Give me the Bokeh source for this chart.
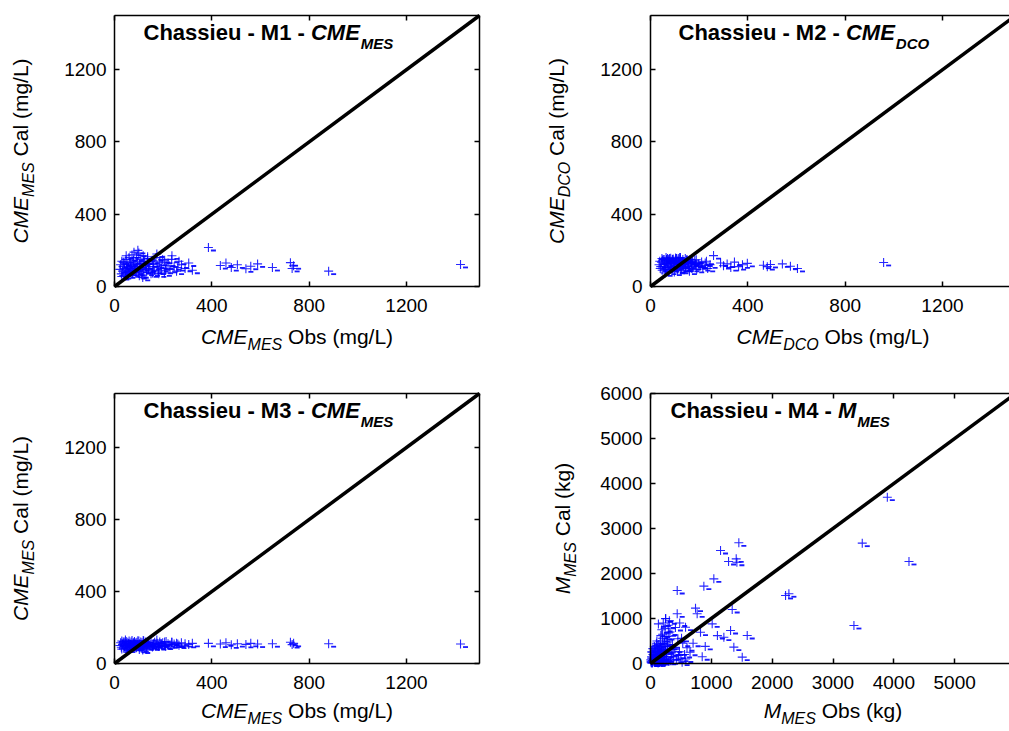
import math
from bokeh.plotting import figure
from bokeh.models import Label, LinearAxis, FixedTicker, Range1d, ColumnDataSource
from bokeh.transform import dodge
from bokeh.layouts import column, row
from bokeh.embed import file_html
from bokeh.resources import INLINE

FONT = "Liberation Sans"
BLUE = "#0000ff"

# ---------------- data ----------------
# Panel 1 : Chassieu - M1 - CME_MES (mg/L)
p1_obs = [22, 25, 28, 30, 33, 35, 38, 40, 42, 45,
          47, 50, 52, 55, 58, 60, 62, 65, 68, 70,
          72, 75, 78, 80, 82, 85, 88, 90, 92, 95,
          98, 100, 103, 105, 108, 110, 113, 115, 118, 120,
          124, 128, 132, 136, 140, 145, 150, 155, 160, 165,
          170, 175, 180, 186, 192, 198, 205, 212, 220, 228,
          236, 245, 255, 265, 275, 290, 305, 320,
          30, 48, 66, 84, 102, 120, 138, 156, 174, 192, 210, 235, 260,
          36, 56, 76, 96, 116, 136, 158, 182, 206,
          386, 435, 458, 480, 505, 540, 560, 588, 649, 723, 730, 736, 880, 1422]
p1_cal = [95, 120, 70, 140, 85, 110, 60, 130, 100, 75,
          150, 90, 125, 65, 105, 160, 80, 135, 115, 95,
          175, 70, 145, 190, 100, 125, 85, 160, 110, 140,
          75, 185, 120, 95, 150, 65, 130, 105, 170, 90,
          140, 115, 80, 155, 100, 125, 70, 145, 110, 90,
          160, 120, 85, 135, 100, 150, 75, 115, 130, 95,
          170, 110, 85, 140, 120, 100, 130, 90,
          55, 170, 100, 120, 60, 140, 95, 75, 180, 115, 90, 150, 105,
          135, 80, 110, 200, 50, 165, 125, 70, 145,
          216, 116, 130, 105, 120, 98, 112, 125, 105, 132, 100, 115, 85, 122]

# Panel 2 : Chassieu - M2 - CME_DCO (mg/L)
p2_obs = [35, 40, 45, 48, 52, 55, 58, 62, 65, 68,
          72, 75, 78, 82, 85, 88, 92, 95, 98, 102,
          105, 108, 112, 115, 118, 122, 125, 130, 135, 140,
          145, 150, 155, 160, 168, 175, 182, 190, 198, 206,
          215, 225, 235, 245,
          50, 60, 70, 80, 90, 100, 110, 120, 132, 144,
          156, 170, 185, 200,
          42, 66, 86, 106, 126, 148, 166,
          76, 96, 116, 138,
          38, 47, 56, 64, 73, 83, 93, 103, 113, 123,
          133, 143, 153, 163, 173, 188, 210, 230,
          259, 288, 300, 315, 330, 345, 362, 378, 398, 464, 480, 493, 542, 575, 604, 958]
p2_cal = [120, 100, 135, 90, 150, 110, 125, 95, 145, 105,
          130, 85, 155, 115, 140, 100, 150, 120, 80, 145,
          110, 155, 95, 135, 125, 150, 90, 140, 115, 130,
          100, 150, 120, 85, 135, 110, 145, 95, 125, 115,
          105, 130, 100, 120,
          145, 75, 155, 105, 150, 130, 90, 160, 120, 110,
          140, 100, 125, 115,
          110, 150, 125, 155, 100, 145, 130,
          150, 140, 155, 105,
          140, 155, 150, 160, 148, 157, 152, 158, 145, 160,
          150, 155, 142, 150, 140, 148, 135, 140,
          171, 130, 115, 125, 105, 135, 110, 120, 128, 118, 110, 122, 125, 112, 100, 133]

# Panel 3 : Chassieu - M3 - CME_MES (mg/L), same observations as M1
p3_obs = list(p1_obs)
p3_cal = [100, 115, 90, 125, 105, 110, 85, 120, 95, 130,
          110, 100, 118, 80, 112, 125, 95, 108, 120, 102,
          128, 90, 115, 105, 122, 98, 112, 88, 118, 106,
          95, 125, 110, 100, 120, 85, 115, 105, 128, 98,
          112, 120, 92, 108, 116, 102, 125, 95, 110, 118,
          105, 112, 98, 120, 108, 115, 100, 122, 110, 104,
          118, 108, 112, 102, 115, 110, 106, 112,
          80, 122, 105, 115, 78, 125, 100, 92, 130, 110, 96, 118, 108,
          120, 88, 112, 126, 75, 116, 104, 94, 120,
          112, 108, 115, 104, 110, 106, 112, 108, 110, 118, 105, 112, 110, 108]

# Panel 4 : Chassieu - M4 - M_MES (kg)
p4_obs = [10, 20, 30, 40, 50, 60, 70, 80, 90, 100,
          110, 120, 130, 140, 150, 160, 175, 190, 205, 220,
          235, 250, 265, 280, 300, 320, 340, 360, 380, 400,
          425, 450, 475, 500, 530, 560, 600,
          15, 35, 55, 75, 95, 115, 135, 155, 180, 200,
          230, 260, 290, 320, 350,
          25, 65, 105, 145, 185, 225, 270, 310,
          210, 240, 170, 130, 190, 250, 300,
          5, 12, 18, 22, 28, 33, 38, 45, 52, 58,
          63, 68, 72, 78, 85, 92, 98, 105, 112, 118,
          125, 138, 148, 158, 168, 178, 195, 215, 245, 275,
          330, 370, 410, 460, 510, 580,
          439, 439, 247, 576, 740, 767, 822, 877, 1014, 1041,
          1151, 1206, 1283, 1316, 1343, 1370, 1409, 1420, 1452, 1508,
          1590, 700, 650, 900, 480, 1100, 520, 850,
          2220, 2275, 3344, 3481, 3893, 4249]
p4_cal = [40, 120, 20, 200, 90, 300, 60, 150, 250, 80,
          400, 180, 30, 350, 120, 500, 220, 70, 450, 160,
          600, 280, 100, 380, 50, 700, 240, 420, 150, 320,
          90, 550, 260, 120, 450, 200, 350,
          10, 60, 180, 350, 100, 250, 420, 150, 300, 650,
          450, 200, 850, 380, 150,
          250, 80, 500, 220, 750, 120, 600, 950,
          900, 780, 620, 880, 40, 1000, 680,
          80, 30, 150, 260, 60, 10, 330, 120, 210, 40,
          380, 170, 90, 20, 280, 130, 450, 60, 200, 320,
          10, 100, 270, 50, 380, 140, 560, 90, 310, 480,
          60, 260, 800, 180, 560, 100,
          1622, 1104, 993, 807, 1230, 1104, 696, 1719, 881, 1881,
          2511, 585, 2267, 733, 1200, 363, 2326, 2250, 2682, 141,
          622, 450, 250, 380, 900, 620, 30, 150,
          1511, 1550, 844, 2674, 3696, 2267]

conc_max = 1500
mass_max = 6000
conc_ticks = [0, 400, 800, 1200]
mass_ticks = [0, 1000, 2000, 3000, 4000, 5000, 6000]
conc_diag = [0, 1500]
mass_diag = [0, 6000]

# ---------------- text metrics (Arial / Liberation Sans) ----------------
W_REG = {' ': 278, '(': 333, ')': 333, '/': 278, '-': 333, 'A': 667, 'C': 722, 'D': 722,
         'E': 667, 'L': 556, 'M': 833, 'O': 778, 'S': 667, 'a': 556, 'b': 556, 'c': 500,
         'e': 556, 'g': 556, 'h': 556, 'i': 222, 'k': 500, 'l': 222, 'm': 833, 'o': 556,
         's': 500, 'u': 556}
W_BOLD = {' ': 278, '-': 333, 'C': 722, 'D': 722, 'E': 667, 'M': 833, 'O': 778, 'S': 667,
          'a': 556, 'e': 556, 'h': 611, 'i': 278, 's': 556, 'u': 611}


def tw(s, size, bold=False):
    tab = W_BOLD if bold else W_REG
    return sum(tab.get(c, 556) for c in s) * size / 1000.0


TICK_FS = 19
LAB_FS = 21
SUB_FS = 16
TIT_FS = 22
TSUB_FS = 15

AXIS_PX = 365      # pixel length of a full axis (0 .. max)


def add_axis(p, side, ticks, bounds, loc, show, standoff):
    ax = LinearAxis(fixed_location=loc, bounds=bounds)
    ax.ticker = FixedTicker(ticks=ticks)
    ax.minor_tick_line_color = None
    ax.major_tick_in = 5
    ax.major_tick_out = 0
    ax.major_tick_line_width = 1.5
    ax.major_tick_line_color = "black"
    ax.axis_line_color = "black"
    ax.axis_line_width = 1.5
    if show:
        ax.major_label_text_font = FONT
        ax.major_label_text_font_size = f"{TICK_FS}px"
        ax.major_label_text_color = "black"
        ax.major_label_standoff = standoff
    else:
        ax.major_label_text_color = None
    p.add_layout(ax, side)


def lab(p, x, y, dx, dy, text, size, style, angle=0.0):
    p.add_layout(Label(x=x, y=y, x_offset=dx, y_offset=dy, text=text, angle=angle,
                       text_font=FONT, text_font_size=f"{size}px", text_font_style=style,
                       text_color="black", text_baseline="alphabetic", text_align="left"))


def make_panel(obs, cal, full_max, width, height, left, top, frame_h, ticks, diag,
               num, quantity, sub, unit, title_dx, ylab_dx, xlab_dy, right_axis):
    sx = AXIS_PX / full_max
    sy = frame_h / full_max
    bottom = height - top - frame_h
    x_rng = Range1d(-left / sx, (width - left) / sx)
    y_rng = Range1d(-bottom / sy, (height - bottom) / sy)
    p = figure(width=width, height=height, x_range=x_rng, y_range=y_rng,
               x_axis_location=None, y_axis_location=None,
               output_backend="svg", toolbar_location=None,
               min_border_left=0, min_border_right=0, min_border_top=0, min_border_bottom=0)
    p.outline_line_color = None
    p.grid.visible = False
    p.background_fill_color = "white"
    p.border_fill_color = "white"

    bnd = (0, full_max)
    add_axis(p, "below", ticks, bnd, 0, True, 12)
    add_axis(p, "left", ticks, bnd, 0, True, 8)
    add_axis(p, "above", ticks, bnd, full_max, False, 0)
    if right_axis:
        add_axis(p, "right", ticks, bnd, full_max, False, 0)

    src = ColumnDataSource(dict(obs=obs, cal=cal))
    # '+' markers, with the small dash at their lower right as in the original rendering
    p.scatter("obs", "cal", source=src, marker="cross", size=9, line_color=BLUE,
              line_width=1.1, line_alpha=0.85)
    p.scatter(dodge("obs", 5 / sx), dodge("cal", -3 / sy), source=src, marker="dash",
              size=5, line_color=BLUE, line_width=1.8, line_alpha=0.9)
    p.line(diag, diag, line_color="black", line_width=3.5)

    # ---- title inside the frame
    t1 = f"Chassieu - {num} -"
    w1 = tw(t1 + " ", TIT_FS, True)
    w2 = tw(quantity, TIT_FS, True)
    lab(p, 0, full_max, title_dx, -17, t1, TIT_FS, "bold")
    lab(p, 0, full_max, title_dx + w1, -17, quantity, TIT_FS, "bold italic")
    lab(p, 0, full_max, title_dx + w1 + w2 + 1, -28, sub, TSUB_FS, "bold italic")

    # ---- x axis label
    q_w = tw(quantity, LAB_FS)
    s_w = tw(sub, SUB_FS)
    sp = tw(" ", LAB_FS)
    xt = f"Obs ({unit})"
    tot = q_w + s_w + sp + tw(xt, LAB_FS)
    xc = full_max / 2
    x0 = -tot / 2
    lab(p, xc, 0, x0, xlab_dy, quantity, LAB_FS, "italic")
    lab(p, xc, 0, x0 + q_w, xlab_dy - 8, sub, SUB_FS, "italic")
    lab(p, xc, 0, x0 + q_w + s_w + sp, xlab_dy, xt, LAB_FS, "normal")

    # ---- y axis label (rotated)
    yt = f"Cal ({unit})"
    tot = q_w + s_w + sp + tw(yt, LAB_FS)
    yc = full_max / 2
    y0 = -tot / 2
    ang = math.pi / 2
    lab(p, 0, yc, ylab_dx, y0, quantity, LAB_FS, "italic", ang)
    lab(p, 0, yc, ylab_dx + 8, y0 + q_w, sub, SUB_FS, "italic", ang)
    lab(p, 0, yc, ylab_dx, y0 + q_w + s_w + sp, yt, LAB_FS, "normal", ang)
    return p


p1 = make_panel(p1_obs, p1_cal, conc_max, 536, 378, 114, 15, 271, conc_ticks, conc_diag,
                "M1", "CME", "MES", "mg/L", 29, -94, -50, True)
p2 = make_panel(p2_obs, p2_cal, conc_max, 473, 378, 114, 15, 271, conc_ticks, conc_diag,
                "M2", "CME", "DCO", "mg/L", 28, -94, -50, False)
p3 = make_panel(p3_obs, p3_cal, conc_max, 536, 353, 114, 15, 270, conc_ticks, conc_diag,
                "M3", "CME", "MES", "mg/L", 29, -94, -47, True)
p4 = make_panel(p4_obs, p4_cal, mass_max, 473, 353, 114, 15, 270, mass_ticks, mass_diag,
                "M4", "M", "MES", "kg", 20, -88, -47, False)

layout = column(row(p1, p2), row(p3, p4))
open("out.html", "w").write(file_html(layout, INLINE))
